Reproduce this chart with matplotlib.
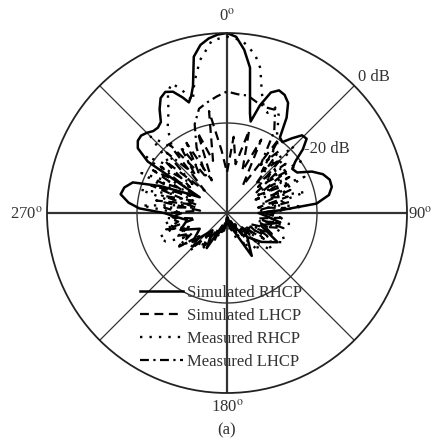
import numpy as np
import matplotlib
matplotlib.use('Agg')
import matplotlib.pyplot as plt

plt.rcParams['font.family'] = ['Liberation Serif', 'DejaVu Serif']
plt.rcParams['mathtext.fontset'] = 'stix'

# angle in degrees (clockwise from top), gain in dB
sim_rhcp_ang = [-180, -170, -160, -150, -140, -130, -120, -110, -100, -95, -90, -87, -84, -80, -76, -72,
                -68, -64, -60, -57, -54, -51, -48, -45, -42, -39, -36, -33, -30, -27, -24, -21, -19,
                -17, -15, -12, -9, -6, -3, 0, 3, 6, 9, 11, 13, 14.5, 17, 20, 23, 26, 29, 32, 35, 38,
                41, 44, 47, 50, 53, 56, 60, 64, 68, 72, 76, 80, 84, 87, 90, 95, 100, 110, 120, 130,
                140, 150, 160, 170, 180]
sim_rhcp_db = [-38, -36, -37, -31, -35, -30, -33, -29, -31, -29, -26, -20.5, -18, -16, -16.5, -18,
               -24, -30, -33, -19, -15.5, -14.5, -14.3, -14.8, -15.5, -15.6, -15, -12.5, -10.5, -9.8,
               -10.5, -12.5, -14, -12.8, -10.8, -4.5, -2.2, -1.0, -0.3, 0, -0.8, -3.5, -7.3, -13.2,
               -17.3, -19, -15, -11.5, -10.4, -10.8, -12, -15, -19.5, -20, -18, -16, -15.8, -18, -21,
               -22.5, -22, -19, -17, -16, -16, -17, -20, -28, -33, -31, -28, -32, -27, -30, -33, -29,
               -36, -37, -38]

sim_lhcp_ang = list(range(-180, 181, 5))
sim_lhcp_db = [-39, -37, -38, -35, -37, -33, -36, -31, -34, -29, -32, -27, -31, -28, -30, -26, -33, -28,
               -27, -34, -24, -33, -22, -31, -21, -30, -22, -33, -20, -29, -22, -32, -21, -28, -17, -26,
               -31, -23, -29, -21, -30, -22, -33, -20, -28, -23, -31, -24, -32, -25, -30, -26, -33, -27,
               -32,
               -28, -33, -27, -31, -29, -34, -30, -35, -31, -36, -33, -37, -35, -38, -36, -38, -39, -39]

meas_rhcp_ang = [-180, -175, -170, -165, -160, -155, -150, -145, -140, -135, -130, -125, -120, -115,
                 -110, -105, -100, -95, -90, -85, -80, -75, -70, -65, -60, -55, -50, -45, -40, -35,
                 -30, -26, -23, -20, -17, -14, -10, -5, 0, 5, 10, 13, 16, 19, 22, 25, 28, 32, 36,
                 40, 45, 50, 55, 60, 65, 70, 75, 80, 85, 90, 95, 100, 105, 110, 117, 125, 130, 135,
                 140, 145, 150, 155, 160, 165, 170, 175, 180]
meas_rhcp_db = [-39, -38, -37, -36, -35, -34, -33, -30, -32, -28, -31, -27, -29, -25, -24, -28,
                -26, -29, -29, -21, -30, -20, -28, -19, -27, -18, -24, -16, -21, -17, -14, -10,
                -8.7, -11, -14, -10, -5.5, -1.5, -0.8, -1.5, -4.2, -7, -12, -15, -16, -14, -15.5,
                -19, -21, -28, -19, -29, -20, -30, -21, -29, -22, -30, -23, -31, -28, -26, -30,
                -27, -25.6, -29, -27, -31, -29, -33, -31, -35, -34, -37, -36, -38, -39]

meas_lhcp_ang = list(range(-180, 181, 5))
meas_lhcp_db = [-39, -38, -37, -35, -36, -33, -35, -31, -33, -29, -32, -27, -30, -28, -31, -26, -29, -27,
                -30, -26, -33, -25, -32, -23, -31, -22, -30, -21, -29, -22, -31, -24, -19, -16, -15, -14,
                -13, -13.5, -13.5, -14.5, -15, -14.7, -19, -27, -22, -31, -23, -32, -24, -33, -25, -32,
                -26, -33, -29,
                -31, -28, -33, -30, -34, -29, -35, -32, -36, -33, -37, -35, -38, -36, -38, -39, -39, -39]

legend_labels = ['Simulated RHCP', 'Simulated LHCP', 'Measured RHCP', 'Measured LHCP']

fig = plt.figure(figsize=(4.38, 4.43), dpi=100)
ax = fig.add_axes([47 / 438, 50 / 443, 360 / 438, 360 / 443], projection='polar')
ax.set_theta_zero_location('N')
ax.set_theta_direction(-1)
ax.set_ylim(-40, 0)
ax.set_xticks([])
ax.set_yticks([])
ax.grid(False)
ax.spines['polar'].set_linewidth(1.3)
ax.spines['polar'].set_color('#222222')

# grid: -20 dB circle and spokes
tt = np.linspace(0, 2 * np.pi, 400)
ax.plot(tt, np.full_like(tt, -20), color='#333333', lw=1.0)
for a in range(0, 360, 45):
    lw = 1.6 if a % 90 == 0 else 0.9
    ax.plot([np.radians(a)] * 2, [-40, 0], color='#333333', lw=lw)

h1, = ax.plot(np.radians(sim_rhcp_ang), sim_rhcp_db, color='black', lw=1.8, ls='-')
h2, = ax.plot(np.radians(sim_lhcp_ang), sim_lhcp_db, color='black', lw=1.6, ls=(0, (4, 2.5)))
h3, = ax.plot(np.radians(meas_rhcp_ang), meas_rhcp_db, color='black', lw=1.7, ls=(0, (1, 3)))
h4, = ax.plot(np.radians(meas_lhcp_ang), meas_lhcp_db, color='black', lw=1.6, ls=(0, (4, 2, 1, 2)))

fig.legend([h1, h2, h3, h4], legend_labels, loc='upper left',
           bbox_to_anchor=(140 / 438, 1 - 285 / 443), frameon=False, fontsize=12,
           handlelength=2.6, handletextpad=0.2, labelspacing=0.42, borderpad=0,
           borderaxespad=0, labelcolor='#333333')

txt = dict(fontsize=12, color='#333333', ha='center', va='center')
fig.text(227 / 438, 1 - 16 / 443, r'0$^{\rm o}$', **txt)
fig.text(420 / 438, 1 - 214 / 443, r'90$^{\rm o}$', **txt)
fig.text(227 / 438, 1 - 407 / 443, r'180$^{\rm o}$', **txt)
fig.text(26 / 438, 1 - 214 / 443, r'270$^{\rm o}$', **txt)
fig.text(374 / 438, 1 - 77 / 443, '0 dB', **txt)
fig.text(327 / 438, 1 - 149 / 443, '-20 dB', **txt)
fig.text(227 / 438, 1 - 430 / 443, '(a)', **txt)

fig.savefig('out.png', dpi=100)
